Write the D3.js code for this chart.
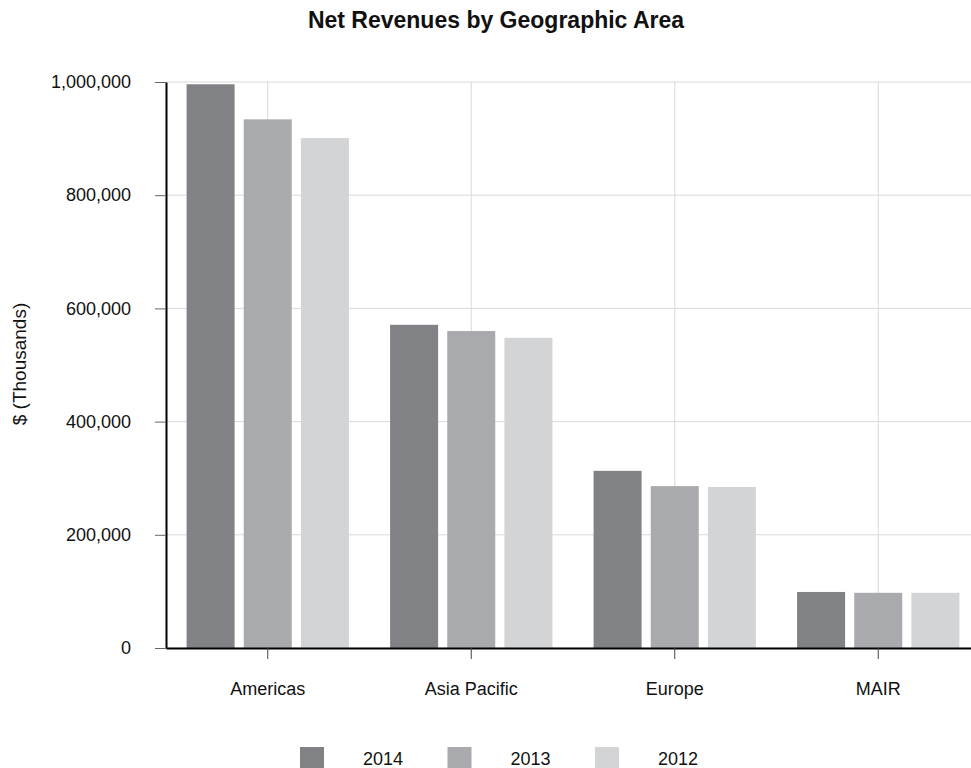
<!DOCTYPE html>
<html>
<head>
<meta charset="utf-8">
<script src="https://cdn.jsdelivr.net/npm/d3@7"></script>
<style>
  html, body { margin: 0; padding: 0; background: #fff; }
  svg { display: block; font-family: "Liberation Sans", Arial, sans-serif; }
</style>
</head>
<body>
<svg id="chart" width="971" height="768"></svg>
<script>
// Net revenues by region, $ thousands
const categories = ["Americas", "Asia Pacific", "Europe", "MAIR"];
const years = ["2014", "2013", "2012"];
const values2014 = [996000, 571000, 313000, 99000];
const values2013 = [934000, 560000, 286000, 97500];
const values2012 = [901000, 548000, 284500, 97500];
const yTicks = [0, 200000, 400000, 600000, 800000, 1000000];
const colors = ["#818286", "#a9aaad", "#d3d4d6"];

const seriesByYear = { "2014": values2014, "2013": values2013, "2012": values2012 };

const svg = d3.select("#chart");
const plotLeft = 166, plotRight = 980, plotTop = 82, plotBottom = 648;
const fontFamily = "Liberation Sans, Arial, sans-serif";

const x = d3.scaleBand().domain(categories).range([plotLeft, plotRight]).paddingInner(0).paddingOuter(0);
const xs = d3.scaleBand().domain(years).range([0, x.bandwidth()]).paddingInner(0.16).paddingOuter(0.36);
const y = d3.scaleLinear().domain([0, 1000000]).range([plotBottom, plotTop]);

// Title
svg.append("text")
  .attr("x", 496).attr("y", 28)
  .attr("text-anchor", "middle")
  .attr("font-size", 23).attr("font-weight", "bold").attr("fill", "#111")
  .text("Net Revenues by Geographic Area");

// Grid
const grid = svg.append("g");
grid.selectAll("line.h").data(yTicks).join("line")
  .attr("class", "h")
  .attr("x1", plotLeft).attr("x2", 971)
  .attr("y1", d => y(d)).attr("y2", d => y(d))
  .attr("stroke", "#d9d9d9").attr("stroke-width", 1);
grid.selectAll("line.v").data(categories).join("line")
  .attr("class", "v")
  .attr("x1", d => x(d) + x.bandwidth() / 2).attr("x2", d => x(d) + x.bandwidth() / 2)
  .attr("y1", plotTop).attr("y2", plotBottom)
  .attr("stroke", "#d9d9d9").attr("stroke-width", 1);

// Bars
const groups = svg.append("g").selectAll("g").data(categories).join("g")
  .attr("transform", d => `translate(${x(d)},0)`);
groups.selectAll("rect")
  .data((c, i) => years.map((yr, k) => ({ yr, k, v: seriesByYear[yr][i] })))
  .join("rect")
  .attr("x", d => xs(d.yr))
  .attr("width", xs.bandwidth())
  .attr("y", d => y(d.v))
  .attr("height", d => plotBottom - y(d.v))
  .attr("fill", d => colors[d.k]);

// Y axis
const yAxis = svg.append("g")
  .attr("transform", `translate(${plotLeft},0)`)
  .call(d3.axisLeft(y).tickValues(yTicks).tickFormat(d3.format(",")).tickSize(11).tickPadding(24).tickSizeOuter(0));
yAxis.select(".domain").attr("stroke", "#000").attr("stroke-width", 2);
yAxis.selectAll(".tick line").attr("stroke", "#666");
yAxis.selectAll(".tick text").attr("font-size", 18).attr("fill", "#111")
  .attr("font-family", fontFamily);

// X axis
const xAxis = svg.append("g")
  .attr("transform", `translate(0,${plotBottom})`)
  .call(d3.axisBottom(x).tickSize(11).tickPadding(23).tickSizeOuter(0));
xAxis.select(".domain").attr("stroke", "#000").attr("stroke-width", 2);
xAxis.selectAll(".tick line").attr("stroke", "#444");
xAxis.selectAll(".tick text").attr("font-size", 18).attr("fill", "#111")
  .attr("font-family", fontFamily);

// Y axis title
svg.append("text")
  .attr("transform", "translate(26,364) rotate(-90)")
  .attr("text-anchor", "middle")
  .attr("font-size", 19).attr("fill", "#111")
  .text("$ (Thousands)");

// Legend
const legend = svg.append("g").selectAll("g").data(years).join("g")
  .attr("transform", (d, i) => `translate(${300 + i * 147.5},747)`);
legend.append("rect").attr("width", 24).attr("height", 24).attr("fill", (d, i) => colors[i]);
legend.append("text").attr("x", 63).attr("y", 18)
  .attr("font-size", 18).attr("fill", "#111").text(d => d);
</script>
</body>
</html>
